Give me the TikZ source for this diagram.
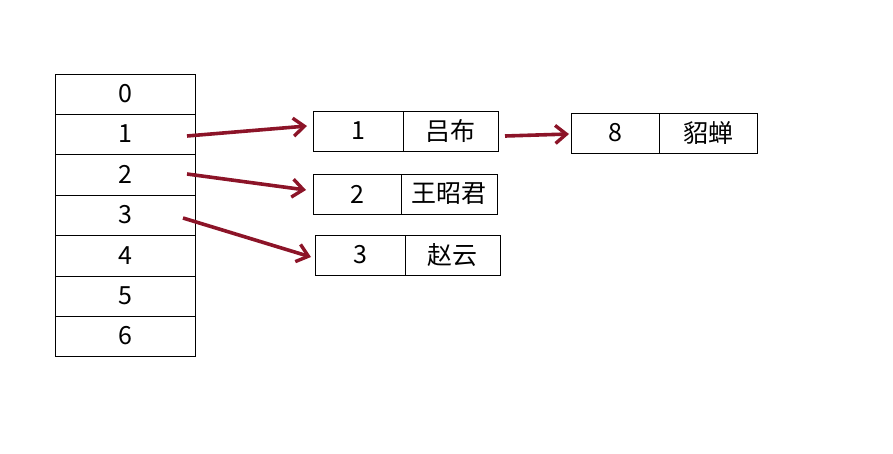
\documentclass[tikz,border=0pt]{standalone}
\usepackage{fontspec}
\setmainfont{Noto Sans CJK SC}
\usetikzlibrary{arrows.meta}
\begin{document}
\begin{tikzpicture}[x=1pt,y=-1pt,
 cell/.style={draw,line width=0.8pt,inner sep=0,font=\fontsize{25}{25}\selectfont,
   execute at begin node={\lower3pt\hbox\bgroup},execute at end node={\egroup}},
 link/.style={draw={rgb,255:red,140;green,20;blue,40},line width=3.6pt,-{Straight Barb[length=11pt,width=18pt,line width=3.4pt]}}]
\useasboundingbox (0,0) rectangle (893,453);
\foreach \i/\t/\b in {0/74/114,1/114/154,2/154/195,3/195/235,4/235/276,5/276/316,6/316/356}{
 \node[cell,minimum width=140pt,minimum height={\b-\t}] (r\i) at (125,{(\t+\b)/2}) {\i};
}
\node[cell,minimum width=90pt,minimum height=40pt] (a1) at (358,131) {1};
\node[cell,minimum width=95pt,minimum height=40pt] (b1) at (450.5,131) {吕布};
\node[cell,minimum width=88pt,minimum height=40pt] (a2) at (357,194) {2};
\node[cell,minimum width=96pt,minimum height=40pt] (b2) at (449,194) {王昭君};
\node[cell,minimum width=90pt,minimum height=40pt] (a3) at (360,255) {3};
\node[cell,minimum width=95pt,minimum height=40pt] (b3) at (452.5,255) {赵云};
\node[cell,minimum width=88pt,minimum height=40pt] (a4) at (615,133) {8};
\node[cell,minimum width=98pt,minimum height=40pt] (b4) at (708,133) {貂蝉};
\coordinate (s1) at (187,136); \coordinate (e1) at (307,126);
\coordinate (s2) at (187,174); \coordinate (e2) at (306,190);
\coordinate (s3) at (183,218); \coordinate (e3) at (311,257);
\coordinate (s4) at (505,136); \coordinate (e4) at (569,134);
\draw[link] (s1) -- (e1);
\draw[link] (s2) -- (e2);
\draw[link] (s3) -- (e3);
\draw[link] (s4) -- (e4);
\end{tikzpicture}
\end{document}
